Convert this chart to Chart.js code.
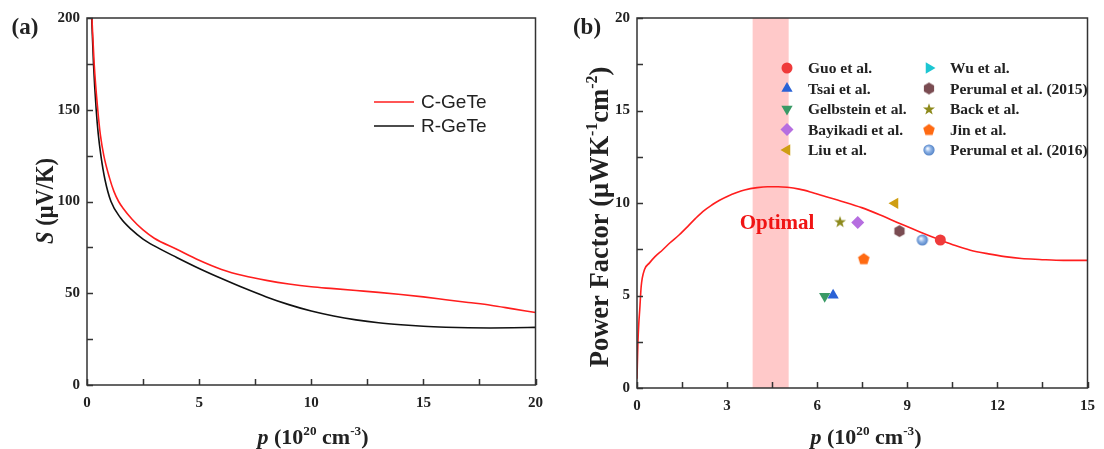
<!DOCTYPE html>
<html>
<head>
<meta charset="utf-8">
<script src="https://cdn.jsdelivr.net/npm/chart.js@4/dist/chart.umd.min.js"></script>
<style>
  html, body { margin: 0; padding: 0; background: #fff; }
  #wrap { position: relative; width: 1104px; height: 449px; }
  canvas { position: absolute; top: 0; }
</style>
</head>
<body>
<div id="wrap">
  <canvas id="left" width="552" height="449" style="left:0"></canvas>
  <canvas id="right" width="552" height="449" style="left:552px"></canvas>
</div>
<script>
// panel (a): Seebeck coefficient vs carrier concentration
const cGeTeP = [0.22, 0.32, 0.48, 0.6, 0.75, 1.0, 1.2, 1.41, 1.6, 2, 2.5, 3, 4, 5, 6, 7, 8, 9, 10, 11, 12, 13, 14, 15, 16, 17, 18, 19, 20];
const cGeTeS = [200, 175, 150, 136, 125, 113, 105.5, 100, 96.5, 90.5, 84.5, 80, 74, 68, 63, 59.5, 57, 55, 53.5, 52.5, 51.5, 50.5, 49.3, 48, 46.5, 45, 43.5, 41.5, 39.5];
const rGeTeP = [0.21, 0.29, 0.41, 0.5, 0.62, 0.8, 1.07, 1.5, 2, 2.5, 3, 4, 5, 6, 7, 8, 9, 10, 11, 12, 13, 14, 15, 16, 17, 18, 19, 20];
const rGeTeS = [200, 175, 150, 137, 125, 112, 100, 91, 84.5, 79.5, 75.8, 69.5, 63.5, 58, 52.8, 48, 43.8, 40.3, 37.6, 35.5, 33.9, 32.8, 32, 31.5, 31.2, 31.1, 31.2, 31.4];

// panel (b): power factor curve
const pfP = [0.0, 0.03, 0.06, 0.09, 0.14, 0.25, 0.41, 0.6, 0.85, 1.1, 1.4, 1.7, 1.95, 2.2, 2.49, 2.75, 3.04, 3.3, 3.58, 4.0, 4.35, 4.7, 5.0, 5.4, 5.77, 6.3, 6.8, 7.48, 8.1, 8.73, 9.4, 10.1, 10.6, 11.1, 11.7, 12.25, 12.8, 13.4, 14.2, 15];
const pfVal = [0.5, 2.4, 3.5, 4.2, 5.5, 6.4, 6.75, 7.1, 7.46, 7.85, 8.27, 8.75, 9.17, 9.55, 9.89, 10.15, 10.38, 10.55, 10.7, 10.83, 10.88, 10.88, 10.85, 10.75, 10.6, 10.34, 10.1, 9.75, 9.35, 8.9, 8.45, 8.0, 7.7, 7.45, 7.25, 7.1, 7.0, 6.95, 6.9, 6.9];

// literature points
const refNames = ['Guo et al.', 'Tsai et al.', 'Gelbstein et al.', 'Bayikadi et al.', 'Liu et al.',
                  'Wu et al.', 'Perumal et al. (2015)', 'Back et al.', 'Jin et al.', 'Perumal et al. (2016)'];
const refP = [10.1, 6.53, 6.25, 7.35, 8.59, null, 8.74, 6.76, 7.55, 9.5];
const refPF = [8.0, 5.02, 4.96, 8.94, 9.98, null, 8.48, 8.99, 6.99, 8.0];

// optimal window
const optimalRange = [3.85, 5.05];

const serif = '"Liberation Serif", "Times New Roman", serif';
const ink = '#222';

function makeMarker(draw) {
  const c = document.createElement('canvas');
  c.width = 14; c.height = 14;
  draw(c.getContext('2d'), 7, 7);
  return c;
}
function polygon(g, cx, cy, n, r, rot) {
  g.beginPath();
  for (let i = 0; i < n; i++) {
    const a = rot + i * 2 * Math.PI / n;
    g.lineTo(cx + r * Math.cos(a), cy + r * Math.sin(a));
  }
  g.closePath();
}
const hexagon = makeMarker((g, x, y) => { g.fillStyle = '#7a4c52'; polygon(g, x, y, 6, 5.9, Math.PI / 6); g.fill(); });
const pentagon = makeMarker((g, x, y) => { g.fillStyle = '#ff6a12'; polygon(g, x, y + 0.5, 5, 6.1, -Math.PI / 2); g.fill(); });
const star = makeMarker((g, x, y) => {
  g.fillStyle = '#8d8a1c';
  g.beginPath();
  for (let i = 0; i < 10; i++) {
    const r = i % 2 ? 2.5 : 6.3;
    const a = -Math.PI / 2 + i * Math.PI / 5;
    g.lineTo(x + r * Math.cos(a), y + 0.5 + r * Math.sin(a));
  }
  g.closePath(); g.fill();
});
const sphere = makeMarker((g, x, y) => {
  const grad = g.createRadialGradient(x - 1.5, y - 1.5, 0.5, x, y, 5.8);
  grad.addColorStop(0, '#f2f7ff');
  grad.addColorStop(0.45, '#8fb4e6');
  grad.addColorStop(1, '#4f7fc4');
  g.fillStyle = grad;
  g.beginPath(); g.arc(x, y, 5.6, 0, Math.PI * 2); g.fill();
});

const refStyles = [
  { color: '#ef3b3b', style: 'circle', radius: 5.5, rotation: 0 },
  { color: '#2a62d6', style: 'triangle', radius: 6.5, rotation: 0 },
  { color: '#3a9a66', style: 'triangle', radius: 6.5, rotation: 180 },
  { color: '#b66ee0', style: 'rectRot', radius: 6.5, rotation: 0 },
  { color: '#cf9e12', style: 'triangle', radius: 6.5, rotation: -90 },
  { color: '#1cc6d2', style: 'triangle', radius: 6.5, rotation: 90 },
  { color: '#7a4c52', style: hexagon, radius: 6.5, rotation: 0 },
  { color: '#8d8a1c', style: star, radius: 6.5, rotation: 0 },
  { color: '#ff6a12', style: pentagon, radius: 6.5, rotation: 0 },
  { color: '#6f9bd8', style: sphere, radius: 6.5, rotation: 0 }
];

// rich text: italic / superscript runs, optionally squeezed to a given length
function drawRich(ctx, runs, cx, cy, size, angle, targetLen) {
  ctx.save();
  ctx.translate(cx, cy);
  ctx.rotate(angle);
  const fontOf = r => (r.it ? 'italic ' : '') + 'bold ' + (r.sup ? size * 0.6 : size) + 'px ' + serif;
  let total = 0;
  const widths = runs.map(r => { ctx.font = fontOf(r); const w = ctx.measureText(r.t).width; total += w; return w; });
  if (targetLen) ctx.scale(targetLen / total, 1);
  let x = -total / 2;
  ctx.fillStyle = ink;
  ctx.textAlign = 'left';
  ctx.textBaseline = 'alphabetic';
  runs.forEach((r, i) => {
    ctx.font = fontOf(r);
    ctx.fillText(r.t, x, size * 0.33 - (r.sup ? size * 0.42 : 0));
    x += widths[i];
  });
  ctx.restore();
}

const pTitle = [{ t: 'p', it: true }, { t: ' (10' }, { t: '20', sup: true }, { t: ' cm' }, { t: '-3', sup: true }, { t: ')' }];

// frame + inward ticks + axis titles
function framePlugin(opts) {
  return {
    id: 'frame',
    beforeDatasetsDraw(chart) {
      if (!opts.band) return;
      const { ctx, chartArea: a, scales: { x } } = chart;
      const x0 = x.getPixelForValue(opts.band[0]);
      const x1 = x.getPixelForValue(opts.band[1]);
      ctx.save();
      ctx.fillStyle = '#ffc9c9';
      ctx.fillRect(x0, a.top, x1 - x0, a.bottom - a.top);
      ctx.restore();
    },
    afterDraw(chart) {
      const { ctx, chartArea: a, scales: { x, y } } = chart;
      ctx.save();
      ctx.strokeStyle = '#333';
      ctx.lineWidth = 1.5;
      ctx.strokeRect(a.left, a.top, a.right - a.left, a.bottom - a.top);
      ctx.beginPath();
      x.ticks.forEach(t => {
        const px = Math.round(x.getPixelForValue(t.value)) + 0.5;
        ctx.moveTo(px, a.bottom); ctx.lineTo(px, a.bottom - 6);
      });
      y.ticks.forEach(t => {
        const py = Math.round(y.getPixelForValue(t.value)) + 0.5;
        ctx.moveTo(a.left, py); ctx.lineTo(a.left + 6, py);
      });
      ctx.stroke();
      ctx.restore();

      drawRich(ctx, pTitle, opts.xTitleX, 437, 22, 0);
      drawRich(ctx, opts.yTitle, opts.yTitleX, opts.yTitleY, opts.yTitleSize, -Math.PI / 2, opts.yTitleLen);

      ctx.save();
      ctx.fillStyle = ink;
      ctx.font = 'bold 23px ' + serif;
      ctx.textAlign = 'center';
      ctx.textBaseline = 'middle';
      ctx.fillText(opts.panel, opts.panelX, 28);
      ctx.restore();

      if (opts.extra) opts.extra(chart);
    }
  };
}

function axes(xMax, xStep, xLabelEvery, yMax, yStep, yLabelEvery, yWidth, xHeight) {
  const tickFont = { family: serif, weight: 'bold', size: 15 };
  const every = n => v => Math.abs(v / n - Math.round(v / n)) < 1e-6 ? v : '';
  return {
    x: {
      type: 'linear', min: 0, max: xMax,
      grid: { display: false, drawTicks: false }, border: { display: false },
      ticks: { stepSize: xStep, autoSkip: false, maxRotation: 0, padding: 9, color: ink, font: tickFont, callback: every(xLabelEvery) },
      afterFit: s => { s.height = xHeight; }
    },
    y: {
      type: 'linear', min: 0, max: yMax,
      grid: { display: false, drawTicks: false }, border: { display: false },
      ticks: { stepSize: yStep, autoSkip: false, padding: 7, color: ink, font: tickFont, callback: every(yLabelEvery) },
      afterFit: s => { s.width = yWidth; }
    }
  };
}

const common = {
  responsive: false,
  animation: false,
  events: [],
  plugins: { legend: { display: false }, tooltip: { enabled: false } }
};

new Chart(document.getElementById('left'), {
  type: 'line',
  data: {
    datasets: [
      { label: 'C-GeTe', data: cGeTeP.map((p, i) => ({ x: p, y: cGeTeS[i] })), borderColor: '#ff1e1e', borderWidth: 1.6, pointRadius: 0, cubicInterpolationMode: 'monotone' },
      { label: 'R-GeTe', data: rGeTeP.map((p, i) => ({ x: p, y: rGeTeS[i] })), borderColor: '#111', borderWidth: 1.6, pointRadius: 0, cubicInterpolationMode: 'monotone' }
    ]
  },
  options: Object.assign({}, common, {
    layout: { padding: { top: 18, right: 11, left: 0, bottom: 0 } },
    scales: axes(20, 2.5, 5, 200, 25, 50, 87, 64)
  }),
  plugins: [framePlugin({
    panel: '(a)', panelX: 25, xTitleX: 313, yTitleX: 44, yTitleY: 201, yTitleSize: 26, yTitleLen: 86,
    yTitle: [{ t: 'S', it: true }, { t: ' (\u03bcV/K)' }],
    extra(chart) {
      const ctx = chart.ctx;
      ctx.save();
      ctx.font = '19px "Liberation Sans", Arial, sans-serif';
      ctx.textBaseline = 'middle';
      chart.data.datasets.forEach((ds, i) => {
        const y = 102 + i * 24;
        ctx.strokeStyle = ds.borderColor;
        ctx.lineWidth = 1.6;
        ctx.beginPath(); ctx.moveTo(374, y); ctx.lineTo(414, y); ctx.stroke();
        ctx.fillStyle = ink;
        ctx.fillText(ds.label, 421, y + 1);
      });
      ctx.restore();
    }
  })]
});

const refSets = refNames.map((name, i) => ({
  type: 'scatter',
  label: name,
  data: refP[i] == null ? [] : [{ x: refP[i], y: refPF[i] }],
  backgroundColor: refStyles[i].color,
  borderColor: refStyles[i].color,
  borderWidth: 0,
  pointStyle: refStyles[i].style,
  pointRadius: refStyles[i].radius,
  pointRotation: refStyles[i].rotation
}));

new Chart(document.getElementById('right'), {
  type: 'line',
  data: {
    datasets: [
      { label: 'PF', data: pfP.map((p, i) => ({ x: p, y: pfVal[i] })), borderColor: '#ff1e1e', borderWidth: 1.6, pointRadius: 0, cubicInterpolationMode: 'monotone', order: 2 }
    ].concat(refSets.map(d => Object.assign(d, { order: 1 })))
  },
  options: Object.assign({}, common, {
    layout: { padding: { top: 18, right: 9, left: 0, bottom: 0 } },
    scales: axes(15, 1.5, 3, 20, 2.5, 5, 85, 61)
  }),
  plugins: [framePlugin({
    panel: '(b)', panelX: 35, xTitleX: 314, yTitleX: 47, yTitleY: 217, yTitleSize: 26.5,
    band: optimalRange,
    yTitle: [{ t: 'Power Factor (\u03bcWK' }, { t: '-1', sup: true }, { t: 'cm' }, { t: '-2', sup: true }, { t: ')' }],
    extra(chart) {
      const ctx = chart.ctx;
      ctx.save();
      ctx.fillStyle = '#f01414';
      ctx.font = 'bold 21px ' + serif;
      ctx.textAlign = 'center';
      ctx.textBaseline = 'middle';
      ctx.fillText('Optimal', 225, 224);
      // legend, two columns of five
      ctx.font = 'bold 15.5px ' + serif;
      ctx.textAlign = 'left';
      refSets.forEach((ds, i) => {
        const col = Math.floor(i / 5), row = i % 5;
        const mx = 235 + col * 142, my = 68 + row * 20.5;
        ctx.fillStyle = ds.backgroundColor;
        Chart.helpers.drawPoint(ctx, { pointStyle: ds.pointStyle, radius: ds.pointRadius, rotation: ds.pointRotation, borderWidth: 0 }, mx, my);
        ctx.fillStyle = ink;
        ctx.fillText(ds.label, mx + 21, my + 1);
      });
      ctx.restore();
    }
  })]
});
</script>
</body>
</html>
